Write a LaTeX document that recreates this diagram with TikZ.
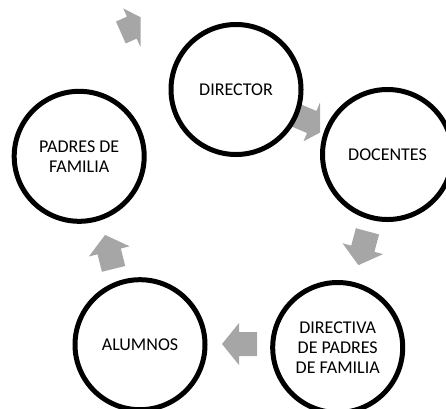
\documentclass[tikz,border=0pt]{standalone}
\usepackage{fontspec}
\setmainfont{Carlito}
\definecolor{arrowgray}{HTML}{A6A6A6}
\tikzset{
  stage/.style={circle, draw=black, line width=5pt, fill=white, minimum size=130pt,
    inner sep=0pt, align=center, font=\fontsize{18}{20}\selectfont},
  blockarrow/.pic={\fill[arrowgray] (-#1,-12) -- (0,-12) -- (0,-21) -- (17,0) -- (0,21) -- (0,12) -- (-#1,12) -- cycle;}
}
\begin{document}
\begin{tikzpicture}[x=1pt,y=-1pt]
\useasboundingbox (0,0) rectangle (446,408);
\clip (0,0) rectangle (446,408);
% block arrows (drawn beneath the circles)
\begin{scope}
  \clip (0,0) rectangle (140.7,408);
  \pic[rotate=24] at (131.8,27.6) {blockarrow=12};
\end{scope}
\begin{scope}
  \clip (0,0) rectangle (320,408);
  \pic[rotate=-23] at (311.7,122) {blockarrow=18};
\end{scope}
\pic[rotate=255] at (362.8,248.7) {blockarrow=18};
\pic[rotate=180] at (239,344) {blockarrow=18};
\pic[rotate=104] at (109.2,251.4) {blockarrow=18};
% stages
\node[stage] (dir) at (236,89.5) {DIRECTOR};
\node[stage] (doc) at (387.5,154.5) {DOCENTES};
\node[stage] (dpf) at (337.7,347.5) {DIRECTIVA\\DE PADRES\\DE FAMILIA};
\node[stage] (alu) at (140,344.7) {ALUMNOS};
\node[stage] (pad) at (79.2,156.3) {PADRES DE\\FAMILIA};
\end{tikzpicture}
\end{document}
